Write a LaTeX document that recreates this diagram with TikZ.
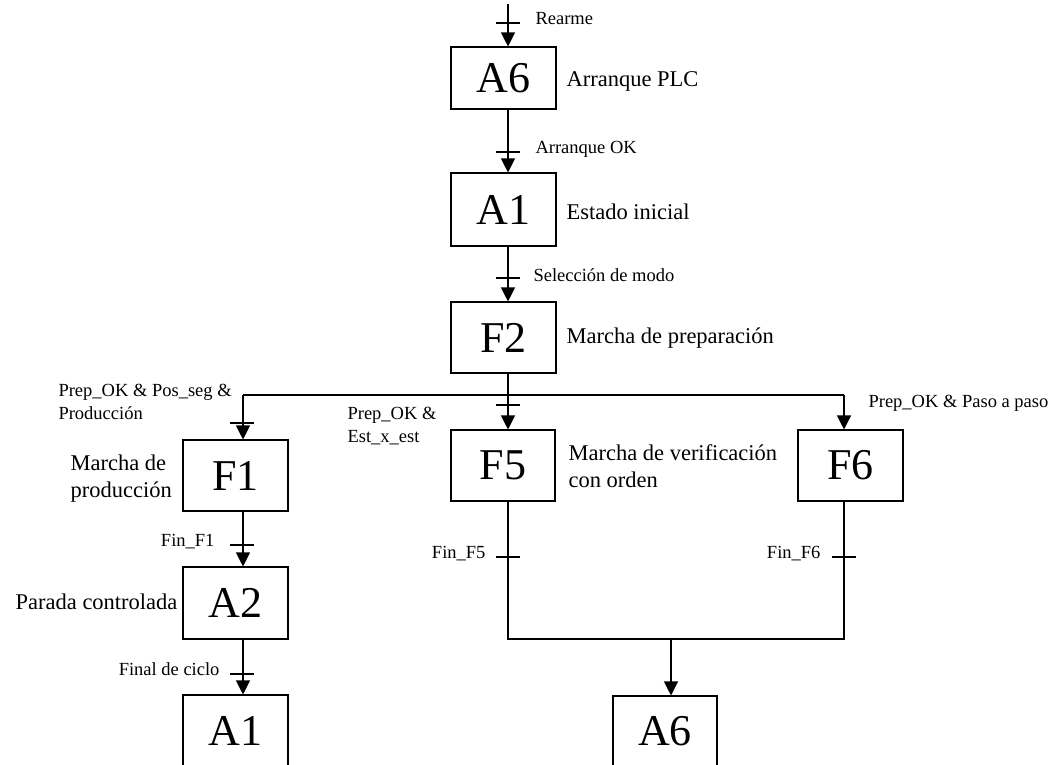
\documentclass[tikz,border=0pt]{standalone}
\usepackage{fontspec}
\setmainfont{Liberation Serif}
\usetikzlibrary{arrows.meta}
\begin{document}
\begin{tikzpicture}[x=1pt,y=-1pt,line width=1.1pt,
  stepbox/.style={draw,inner sep=0pt,minimum width=105pt,
    font=\fontsize{44}{44}\selectfont},
  lbl/.style={font=\fontsize{18.5}{23}\selectfont,inner sep=0pt,align=left},
  big/.style={font=\fontsize{22.5}{27}\selectfont,inner sep=0pt,align=left},
  flow/.style={-{Triangle[length=14pt,width=14pt]}},
  tbar/.pic={\draw (-12,0) -- (12,0);}]
\useasboundingbox (0,0) rectangle (1064,764);
\clip (0,0) rectangle (1064,764);

% vertical lines of the columns
\coordinate (xm) at (508,0);
\coordinate (xl) at (243,0);
\coordinate (xr) at (844,0);
\coordinate (xb) at (671,0);

% steps
\node[stepbox,minimum height=62pt] (A6t) at (503.5,78) {A6};
\node[stepbox,minimum height=73pt] (A1t) at (503.5,209.5) {A1};
\node[stepbox,minimum height=71pt] (F2) at (503.5,337.5) {F2};
\node[stepbox,minimum height=71pt] (F1) at (235.5,475.5) {F1};
\node[stepbox,minimum height=71pt,minimum width=104pt] (F5) at (503,465.5) {F5};
\node[stepbox,minimum height=71pt] (F6) at (850.5,465.5) {F6};
\node[stepbox,minimum height=72pt] (A2) at (235.5,603) {A2};
\node[stepbox,minimum height=71pt] (A1b) at (235.5,730.5) {A1};
\node[stepbox,minimum height=71pt,minimum width=104pt] (A6b) at (665,731.5) {A6};

% step descriptions (base = baseline of the last line)
\node[big,anchor=base west] (dA6) at (566,86) {Arranque PLC};
\node[big,anchor=base west] (dA1) at (566,219) {Estado inicial};
\node[big,anchor=base west] (dF2) at (566,343) {Marcha de preparación};
\node[big,anchor=base west] (dF1) at (70,497) {Marcha de\\producción};
\node[big,anchor=base west] (dF5) at (568,487) {Marcha de verificación\\con orden};
\node[big,anchor=base east] (dA2) at (178,609) {Parada controlada};

% transition conditions
\node[lbl,anchor=base west] (tRe) at (535,24) {Rearme};
\node[lbl,anchor=base west] (tAo) at (535,153) {Arranque OK};
\node[lbl,anchor=base west] (tSm) at (533,281) {Selección de modo};
\node[lbl,anchor=base west] (tPr) at (58,419) {Prep\_OK \& Pos\_seg \&\\Producción};
\node[lbl,anchor=base west] (tEx) at (347,442) {Prep\_OK \&\\Est\_x\_est};
\node[lbl,anchor=base west] (tPp) at (868,407) {Prep\_OK \& Paso a paso};
\node[lbl,anchor=base east] (tF1) at (215,546) {Fin\_F1};
\node[lbl,anchor=base east] (tF5) at (486,558) {Fin\_F5};
\node[lbl,anchor=base east] (tF6) at (821,558) {Fin\_F6};
\node[lbl,anchor=base east] (tFc) at (220,675) {Final de ciclo};

% main sequence
\coordinate (in) at (508,4);
\draw[flow] (in) -- (in |- A6t.north);
\draw[flow] (A6t.south -| xm) -- (A1t.north -| xm);
\draw[flow] (A1t.south -| xm) -- (F2.north -| xm);

% selection of the mode
\coordinate (bl) at (243,395);
\coordinate (br) at (844,395);
\draw (F2.south -| xm) -- (xm |- bl);
\draw (bl) -- (br);
\draw[flow] (xm |- bl) -- (F5.north -| xm);
\draw[flow] (bl) -- (F1.north -| xl);
\draw[flow] (br) -- (F6.north -| xr);

% production branch
\draw[flow] (F1.south -| xl) -- (A2.north -| xl);
\draw[flow] (A2.south -| xl) -- (A1b.north -| xl);

% verification branches joining back
\coordinate (jl) at (508,639);
\coordinate (jr) at (844,639);
\draw (F5.south -| xm) -- (jl) -- (jr) -- (F6.south -| xr);
\draw[flow] (xb |- jl) -- (A6b.north -| xb);

% transition bars
\pic at (508,23) {tbar};
\pic at (508,152) {tbar};
\pic at (508,278) {tbar};
\pic at (508,405) {tbar};
\pic at (242,423) {tbar};
\pic at (242,545) {tbar};
\pic at (242,674) {tbar};
\pic at (508,557) {tbar};
\pic at (844,557) {tbar};
\end{tikzpicture}
\end{document}
